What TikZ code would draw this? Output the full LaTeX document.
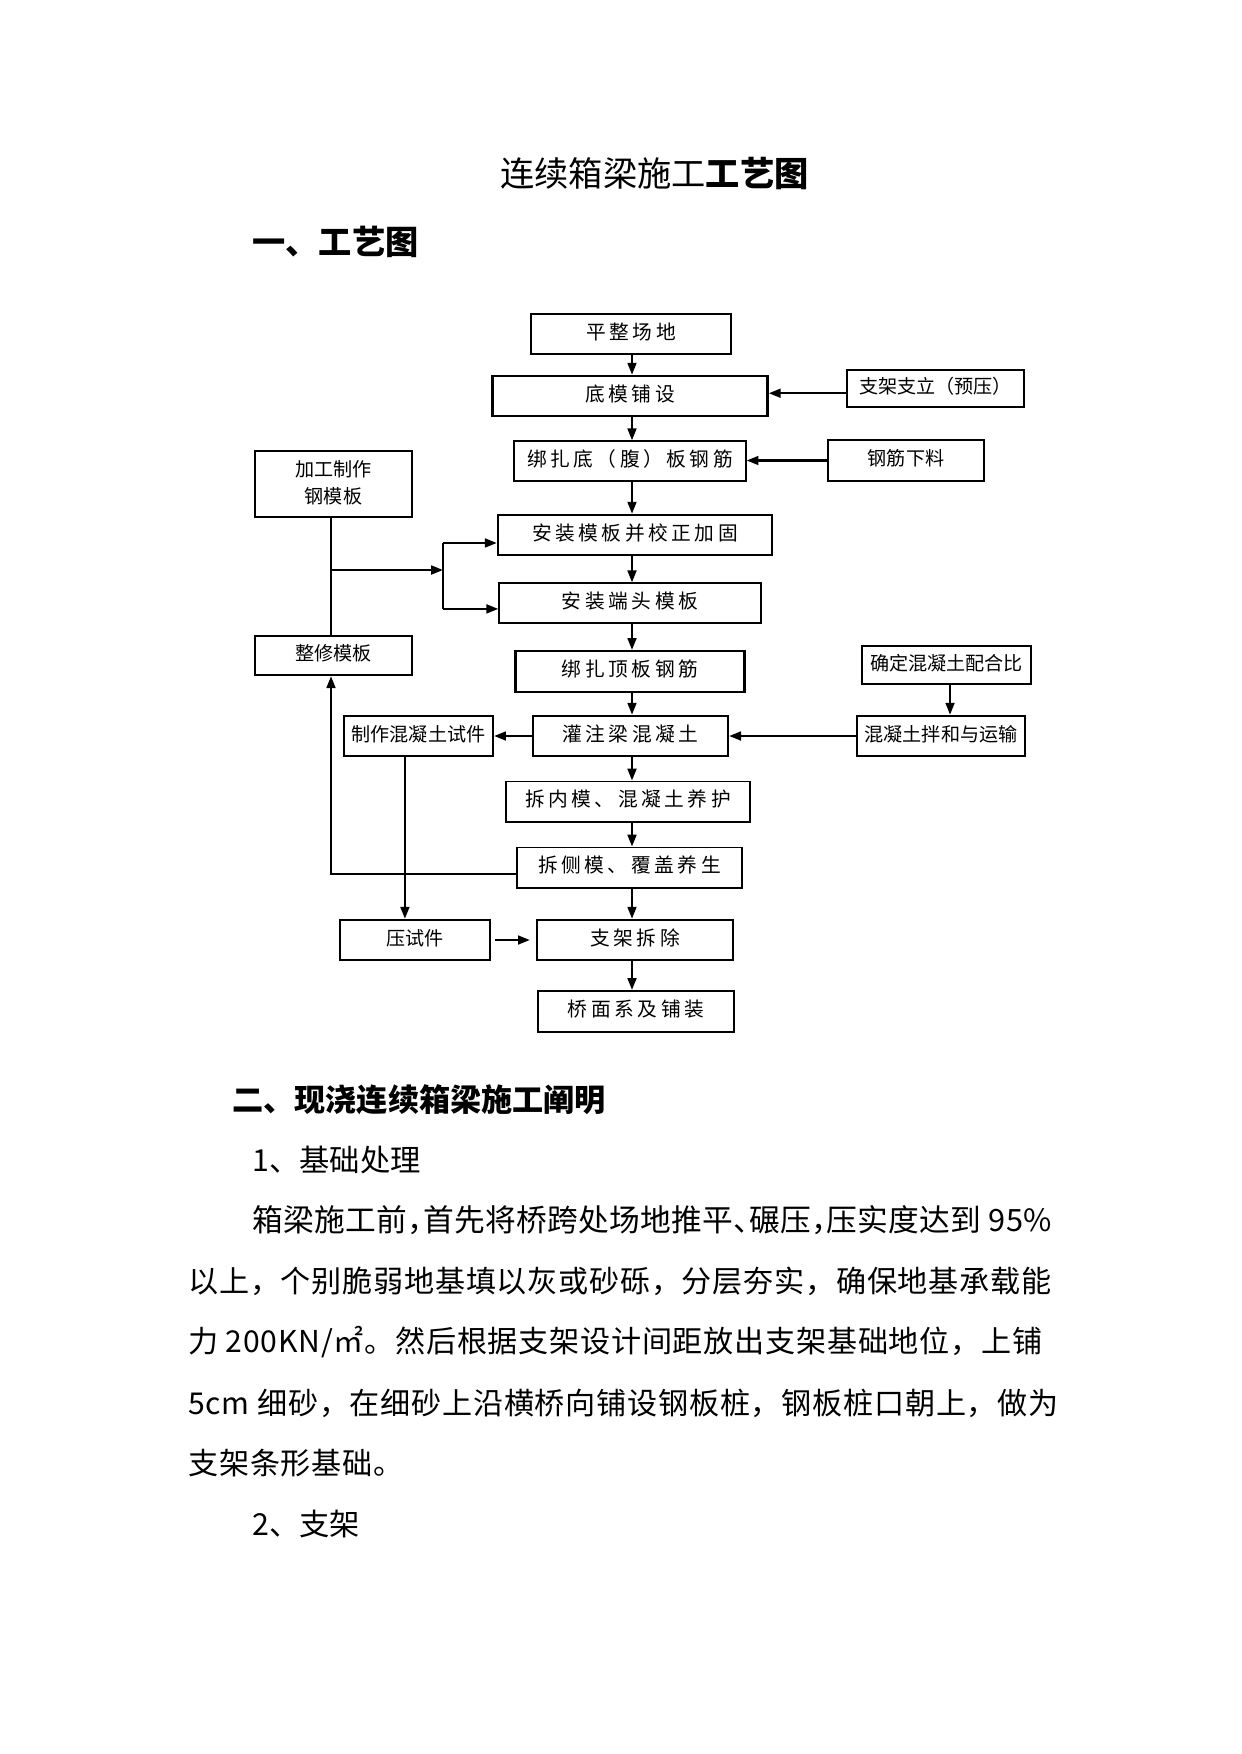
\documentclass[tikz,border=0pt]{standalone}
\usepackage{fontspec}
\setmainfont{Noto Sans CJK SC}
\newfontfamily\boxfont[LetterSpace=18]{Noto Sans CJK SC}
\newfontfamily\parafont[LetterSpace=2.5]{Noto Sans CJK SC}
\newfontfamily\firstfont[LetterSpace=1,RawFeature=+halt]{Noto Sans CJK SC}
\usetikzlibrary{arrows.meta,positioning}

\begin{document}
\begin{tikzpicture}[
  x=0.16933mm, y=-0.16933mm,
  stage/.style={draw=black, line width=1.2pt, inner sep=0pt, minimum height=6.8mm,
                text depth=1mm, align=center, font=\boxfont\fontsize{9.5}{11}\selectfont},
  lite/.style={line width=0.6pt},
  side/.style={stage, font=\fontsize{9.2}{11}\selectfont},
  arr/.style={-{Triangle[length=2mm,width=1.5mm]}, line width=1pt},
  link/.style={line width=1pt},
  txt/.style={anchor=west, inner sep=0pt, font=\fontsize{14.6}{18}\selectfont},
  para/.style={txt, font=\parafont\fontsize{14.5}{18}\selectfont}
]
\useasboundingbox (0,0) rectangle (1241,1754);

% Headings
\node[font=\fontsize{16.5}{20}\selectfont] (title) at (654.5,173) {连续箱梁施工\textbf{工艺图}};
\node[txt, font=\bfseries\fontsize{16}{20}\selectfont] (head1) at (252,242) {一、工艺图};

% Main line
\node[stage, minimum width=33.9mm] (flat) at (631,334) {平整场地};
\node[stage, minimum width=46.6mm] (bottom) at (630,396) {底模铺设};
\node[stage, lite, minimum width=39.3mm] (webbar) at (630,461) {绑扎底（腹）板钢筋};
\node[stage, minimum width=46.4mm] (setform) at (635,535) {安装模板并校正加固};
\node[stage, lite, minimum width=44.4mm] (endform) at (630,603) {安装端头模板};
\node[stage, minimum width=38.8mm, minimum height=6.9mm] (topbar) at (630,671.5) {绑扎顶板钢筋};
\node[stage, minimum width=33mm] (pour) at (630.5,736) {灌注梁混凝土};
\node[stage, lite, minimum width=41.3mm, minimum height=6.9mm] (innerform) at (628,801.5) {拆内模、混凝土养护};
\node[stage, lite, minimum width=38.1mm, minimum height=6.9mm] (sideform) at (629.5,867.5) {拆侧模、覆盖养生};
\node[stage, minimum width=33.2mm] (remove) at (635,940) {支架拆除};
\node[stage, minimum width=33.2mm, minimum height=6.9mm] (deck) at (636,1011.5) {桥面系及铺装};

% Right side
\node[side, minimum width=30mm, minimum height=6.3mm] (support) at (935.5,388.5) {支架支立（预压）};
\node[side, minimum width=26.4mm, minimum height=6.9mm] (barcut) at (906,460.5) {钢筋下料};
\node[side, minimum width=28.6mm, minimum height=6.4mm] (ratio) at (946.5,665) {确定混凝土配合比};
\node[side, minimum width=28.4mm] (mixing) at (941,736) {混凝土拌和与运输};

% Left side
\node[side, minimum width=26.6mm, minimum height=11.2mm, text depth=0.6mm,
      font=\fontsize{9.2}{12.9}\selectfont] (makeform) at (333.5,484) {加工制作\\钢模板};
\node[side, minimum width=26.6mm, minimum height=6.6mm] (repair) at (333.5,655.5) {整修模板};
\node[side, minimum width=25.2mm] (sample) at (418.5,736) {制作混凝土试件};
\node[side, minimum width=25.4mm] (test) at (415,940) {压试件};

% Helper points
\coordinate (col) at (632,0);
\coordinate (lx) at (331,570);
\coordinate (bx) at (443,570);
\coordinate (t1) at ([yshift=-1.35mm]setform.west);
\coordinate (t2) at ([yshift=-1mm]endform.west);
\coordinate (s1) at ([yshift=-1.1mm]sideform.west);

% Edges
\foreach \a/\b in {flat/bottom,bottom/webbar,webbar/setform,setform/endform,endform/topbar,
                   topbar/pour,pour/innerform,innerform/sideform,sideform/remove,remove/deck} {
  \draw[arr] (\a.south -| col) -- (\b.north -| col);
}
\draw[arr] ([yshift=-0.8mm]support.west) -- ([yshift=-0.8mm]support.west -| bottom.east);
\draw[arr] (barcut.west) -- (barcut.west -| webbar.east);
\draw[arr] ([xshift=0.6mm]ratio.south) -- ([xshift=0.6mm]ratio.south |- mixing.north);
\draw[arr] (mixing.west) -- (mixing.west -| pour.east);
\draw[arr] (pour.west) -- (sample.east);
\draw[arr] ([xshift=-2.3mm]sample.south) -- ([xshift=-2.3mm]sample.south |- test.north);
\draw[arr, shorten <=0.7mm, shorten >=1mm] (test.east) -- (remove.west);
\draw[link] (makeform.south -| lx) -- (repair.north -| lx);
\draw[arr] (lx) -- (bx);
\draw[link] (t1 -| bx) -- (t2 -| bx);
\draw[arr] (t1 -| bx) -- (t1);
\draw[arr] (t2 -| bx) -- (t2);
\draw[arr] (s1) -| (repair.south -| lx);

% Text
\node[txt, font=\bfseries\fontsize{15}{18}\selectfont] (head2) at (232,1100) {二、现浇连续箱梁施工阐明};
\node[txt] (sub1) at (252,1160) {1、基础处理};
\node[txt, font=\firstfont\fontsize{14.8}{18}\selectfont] (l1) at (252,1220) {箱梁施工前，首先将桥跨处场地推平、碾压，压实度达到 95\%};
\node[para] (l2) at (188,1281) {以上，个别脆弱地基填以灰或砂砾，分层夯实，确保地基承载能};
\node[para] (l3) at (188,1342) {力 200KN/㎡。然后根据支架设计间距放出支架基础地位，上铺};
\node[para] (l4) at (188,1403) {5cm 细砂，在细砂上沿横桥向铺设钢板桩，钢板桩口朝上，做为};
\node[para] (l5) at (188,1463) {支架条形基础。};
\node[txt] (sub2) at (252,1524) {2、支架};
\end{tikzpicture}
\end{document}
